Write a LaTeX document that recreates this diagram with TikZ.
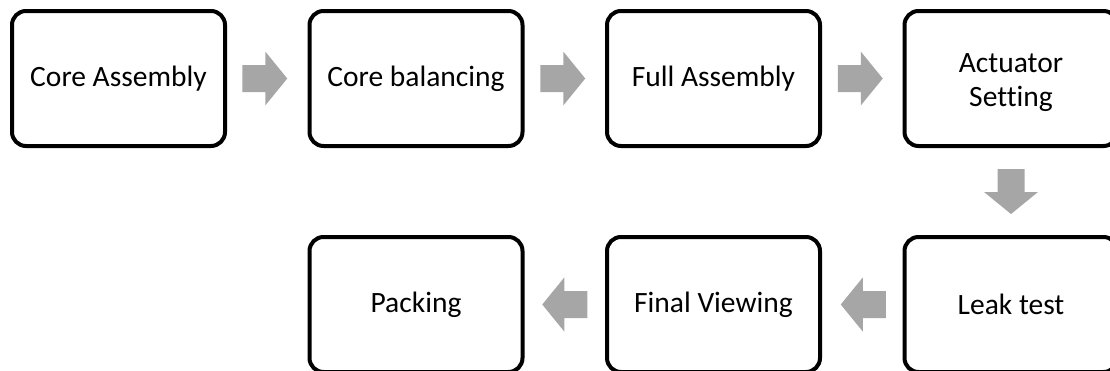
\documentclass[tikz,border=0pt]{standalone}
\usepackage{fontspec}
\setmainfont[Ligatures=NoCommon]{Carlito}
\usetikzlibrary{calc}
\definecolor{arrowgray}{HTML}{A6A6A6}
\tikzset{
  stepbox/.style={draw=black, line width=4pt, rounded corners=14pt, fill=white,
    minimum width=213pt, minimum height=135pt, inner sep=0pt, outer sep=0pt,
    align=center, font=\fontsize{29.5}{34}\selectfont},
  blockarrow/.pic={\fill[arrowgray] (-22.5,-13.5) -- (0.5,-13.5) -- (0.5,-27) -- (22.5,0) -- (0.5,27) -- (0.5,13.5) -- (-22.5,13.5) -- cycle;}
}
\begin{document}
\begin{tikzpicture}[x=1pt,y=-1pt]
\useasboundingbox (0,0) rectangle (1110,370);
\clip (0,0) rectangle (1110,370);
\node[stepbox] (a) at (118.5,78.5) {Core Assembly};
\node[stepbox] (b) at (416,78.5) {Core balancing};
\node[stepbox] (c) at (713.5,78.5) {Full Assembly};
\node[stepbox, text depth=0pt] (d) at (1011,78.5) {\raisebox{-3pt}{Actuator}\\\raisebox{-3pt}{Setting}};
\node[stepbox] (e) at (1011,304.5) {Leak test};
\node[stepbox] (f) at (713.5,304.5) {Final Viewing};
\node[stepbox] (g) at (416,304.5) {Packing};
\path ($(a.east)!0.5!(b.west)+(-2.5,0)$) pic {blockarrow};
\path ($(b.east)!0.5!(c.west)+(-2,0)$) pic {blockarrow};
\path ($(c.east)!0.5!(d.west)+(-2,0)$) pic {blockarrow};
\path ($(d.south)!0.5!(e.north)$) pic[rotate=-90] {blockarrow};
\path ($(e.west)!0.5!(f.east)+(1,0)$) pic[rotate=180] {blockarrow};
\path ($(f.west)!0.5!(g.east)$) pic[rotate=180] {blockarrow};
\end{tikzpicture}
\end{document}
